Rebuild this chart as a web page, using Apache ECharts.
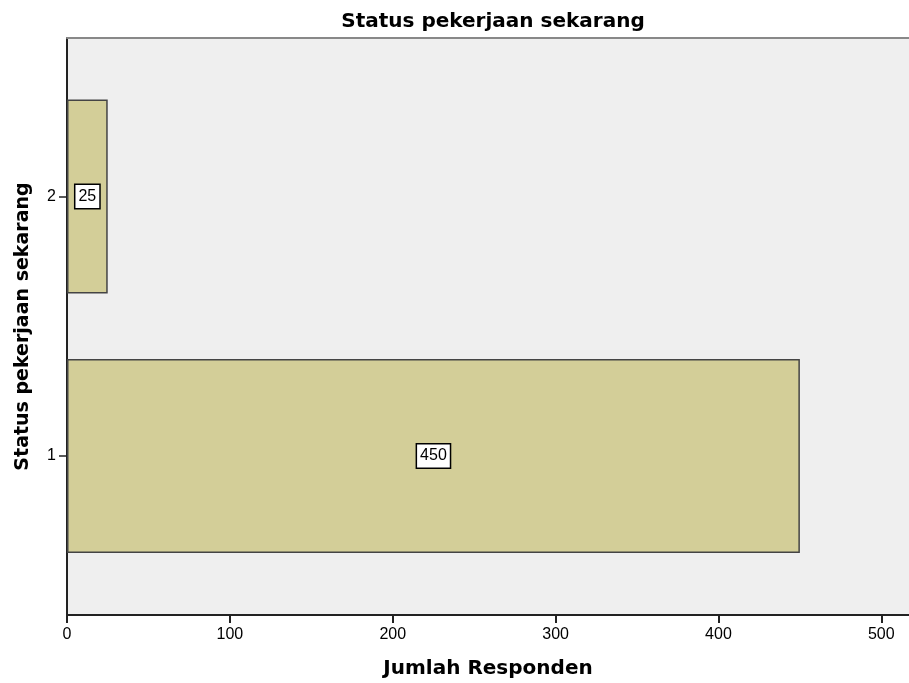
<!DOCTYPE html>
<html>
<head>
<meta charset="utf-8">
<script src="https://cdn.jsdelivr.net/npm/echarts@6/dist/echarts.min.js"></script>
<style>
html, body { margin: 0; padding: 0; background: #ffffff; }
#box { width: 909px; height: 683px; }
</style>
</head>
<body>
<div id="box"></div>
<script>
// data
const categories = ["1", "2"]
const counts = [450, 25]
const xMax = 517

let myCharts = echarts.init(document.getElementById("box"))
const font = "'DejaVu Sans', sans-serif"
const numFont = "'Liberation Sans', Arial, sans-serif"

let option = {
	animation: false,
	title: {
		text: "Status pekerjaan sekarang",
		left: 488,
		top: 7,
		textAlign: "center",
		textStyle: { fontFamily: font, fontSize: 20, fontWeight: "bold", color: "#000" },
	},
	grid: [
		// frame / background / value axis
		{ left: 67, right: 0, top: 38, bottom: 68, show: true, backgroundColor: "#efefef", borderWidth: 0, containLabel: false, outerBoundsMode: "none" },
		// bars
		{ left: 67, right: 0, top: 66.75, bottom: 97.25, containLabel: false, outerBoundsMode: "none" },
	],
	xAxis: [
		{
			gridIndex: 0,
			type: "value",
			min: 0,
			max: xMax,
			interval: 100,
			name: "Jumlah Responden",
			nameLocation: "middle",
			nameGap: 44,
			nameTextStyle: { fontFamily: font, fontSize: 20, fontWeight: "bold", color: "#000" },
			axisLine: { show: true, lineStyle: { color: "#222", width: 2 } },
			axisTick: { show: true, length: 8, lineStyle: { color: "#222", width: 2 } },
			axisLabel: { fontFamily: numFont, fontSize: 16, color: "#000", margin: 12, showMaxLabel: false },
			splitLine: { show: false },
		},
		{
			gridIndex: 0,
			type: "value",
			position: "top",
			min: 0,
			max: xMax,
			axisLine: { show: true, lineStyle: { color: "#888", width: 2 } },
			axisTick: { show: false },
			axisLabel: { show: false },
			splitLine: { show: false },
		},
		{
			gridIndex: 1,
			type: "value",
			min: 0,
			max: xMax,
			show: false,
		},
	],
	yAxis: [
		{
			gridIndex: 0,
			type: "value",
			min: 0,
			max: 1,
			name: "Status pekerjaan sekarang",
			nameLocation: "middle",
			nameGap: 34,
			nameTextStyle: { fontFamily: font, fontSize: 19, fontWeight: "bold", color: "#000" },
			axisLine: { show: true, lineStyle: { color: "#222", width: 2 } },
			axisTick: { show: false },
			axisLabel: { show: false },
			splitLine: { show: false },
		},
		{
			gridIndex: 1,
			type: "category",
			data: categories,
			axisLine: { show: false },
			axisTick: { show: true, alignWithLabel: true, length: 8, lineStyle: { color: "#222", width: 1.5 } },
			axisLabel: { fontFamily: numFont, fontSize: 16, color: "#000", margin: 11 },
		},
	],
	series: [
		{
			type: "bar",
			xAxisIndex: 2,
			yAxisIndex: 1,
			data: counts,
			barWidth: 194,
			itemStyle: { color: "#d3ce98", borderColor: "#444", borderWidth: 1.5 },
			label: {
				show: true,
				position: "inside",
				fontFamily: numFont,
				fontSize: 16,
				color: "#000",
				backgroundColor: "#fff",
				borderColor: "#000",
				borderWidth: 1.5,
				padding: [4, 3, 3, 3],
			},
		},
	],
}
myCharts.setOption(option)
</script>
</body>
</html>
